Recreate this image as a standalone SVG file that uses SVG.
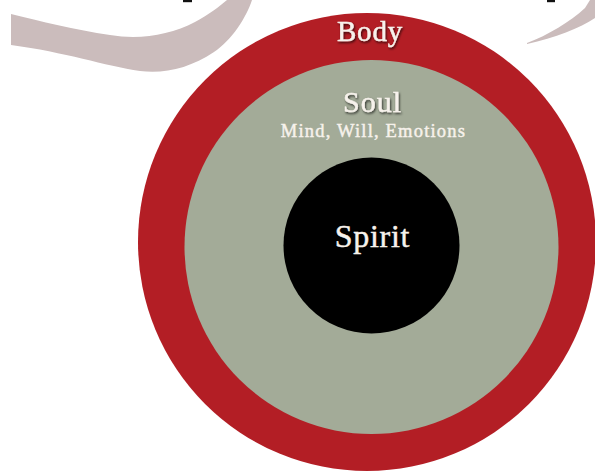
<svg xmlns="http://www.w3.org/2000/svg" width="595" height="473" viewBox="0 0 595 473">
  <defs>
    <filter id="shadow" x="-20%" y="-40%" width="140%" height="180%">
      <feDropShadow dx="1" dy="1.5" stdDeviation="0.8" flood-color="#000" flood-opacity="0.7"/>
    </filter>
  </defs>
  <style>
    .lbl { font-family: "Liberation Serif", "DejaVu Serif", serif; fill: #f7f2ec; stroke: #f7f2ec; stroke-width: 0.45; text-anchor: middle; }
    .swoosh { fill: #cbbcbc; }
  </style>
  <rect width="595" height="473" fill="#ffffff"/>
  <g id="decor">
    <path class="swoosh" d="M11,14 C40,21 75,30 110,35 C140,40 170,35 195,22 C210,14 220,6 227,0 L252,0 C246,18 232,40 214,52 C190,68 165,74 140,71 C105,66 65,52 11,45 Z"/>
    <path class="swoosh" d="M527,43 C548,35 570,22 585,8 L590,0 L595,0 L595,18 C580,28 555,38 527,44 Z"/>
    <rect x="183" y="0" width="9" height="2.2" fill="#111"/>
    <rect x="547" y="0" width="8" height="2.2" fill="#111"/>
  </g>
  <g id="body">
    <circle cx="367" cy="242" r="229" fill="#b31e25"/>
    <text class="lbl" x="370" y="41" font-size="29" letter-spacing="0.8" filter="url(#shadow)">Body</text>
  </g>
  <g id="soul">
    <circle cx="371.5" cy="247" r="187" fill="#a3ab98"/>
    <text class="lbl" x="372.5" y="112" font-size="30" letter-spacing="1" filter="url(#shadow)">Soul</text>
    <text class="lbl" x="373.5" y="137" font-size="18.5" letter-spacing="1.2">Mind, Will, Emotions</text>
  </g>
  <g id="spirit">
    <circle cx="371.5" cy="245.5" r="88" fill="#000000"/>
    <text class="lbl" x="372.5" y="247" font-size="32" letter-spacing="0.7">Spirit</text>
  </g>
  <g id="connectors"/>
</svg>
